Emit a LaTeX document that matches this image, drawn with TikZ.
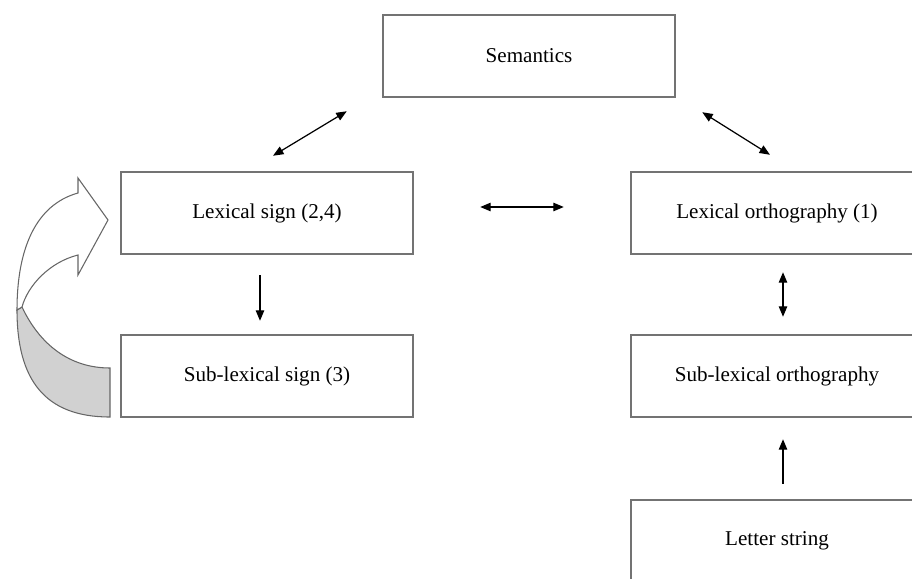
\documentclass[tikz,border=0pt]{standalone}
\usepackage{fontspec}
\setmainfont{Liberation Serif}
\usetikzlibrary{arrows.meta}
\usetikzlibrary{positioning}

\begin{document}
\begin{tikzpicture}[x=0.02cm, y=-0.02cm,
            box/.style = {draw=black!55,line width=1.4pt,fill=white,
                minimum width=292*0.02cm,minimum height=82*0.02cm,
                align=center,font=\fontsize{12}{14}\selectfont},
            link/.style = {{Triangle[length=2.1mm,width=1.7mm]}-{Triangle[length=2.1mm,width=1.7mm]},
                line width=0.7pt},
            oneway/.style = {-{Triangle[length=2.1mm,width=1.7mm]},line width=0.7pt},
            ribbon/.style = {draw=black!60,line width=0.6pt}]
            \useasboundingbox (0,0) rectangle (912,578);
            \node[box](semantics) at (529,56) {Semantics};
            \node[box](lexsign) at (267,213) {Lexical sign (2,4)};
            \node[box](sublexsign) at (267,376) {Sub-lexical sign (3)};
            \node[box](lexorth) at (777,213) {Lexical orthography (1)};
            \node[box](sublexorth) at (777,376) {Sub-lexical orthography};
            \node[box](letters) at (777,541) {Letter string};
            % links between the boxes
            \draw[link] ([shift={(6,-15)}]lexsign.north)
                -- ([shift={(-35,13)}]semantics.south west);
            \draw[link] ([shift={(26,14)}]semantics.south east)
                -- ([shift={(-7,-16)}]lexorth.north);
            \draw[link] ([shift={(66,-6)}]lexsign.east)
                -- ([shift={(-66,-6)}]lexorth.west);
            \draw[oneway] ([shift={(-7,20)}]lexsign.south)
                -- ([shift={(-7,-13)}]sublexsign.north);
            \draw[link] ([shift={(6,17)}]lexorth.south)
                -- ([shift={(6,-17)}]sublexorth.north);
            \draw[oneway] ([shift={(6,-15)}]letters.north)
                -- ([shift={(6,21)}]sublexorth.south);
            % curved block arrow
            \path[ribbon,fill=black!18] (22,307) .. controls (40,345) and (70,368) .. (110,368)
                -- (110,417) .. controls (45,417) and (17,380) .. (17,310) -- cycle;
            \path[ribbon,fill=white] (17,310) .. controls (17,250) and (35,205) .. (78,193)
                -- (78,178) -- (108,220) -- (78,275) -- (78,255)
                .. controls (50,262) and (28,285) .. (22,307) -- cycle;
        \end{tikzpicture}
\end{document}
